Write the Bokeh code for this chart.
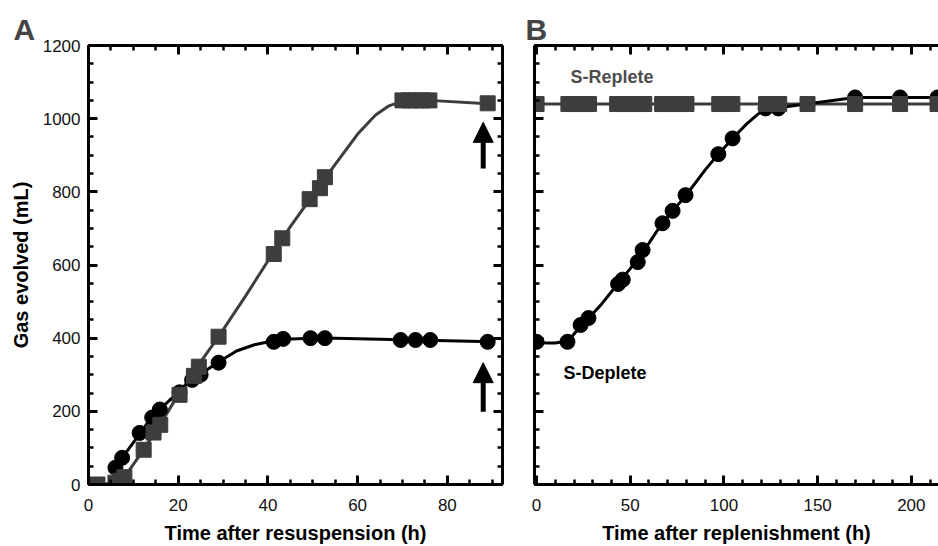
from bokeh.plotting import figure
from bokeh.layouts import row
from bokeh.models import (Range1d, LinearAxis, SingleIntervalTicker, Label, Arrow, NormalHead,
                          CustomJSTickFormatter)
from bokeh.embed import file_html
from bokeh.resources import INLINE

# ---------------- data ----------------
# Panel A: time after resuspension (h) vs gas evolved (mL)
sqA_x = [2, 6, 7, 8, 12.3, 14.5, 16, 20.3, 23.5, 24.6, 29, 41.3, 43.2, 49.3, 51.6, 52.7, 70, 71.5, 73, 74.5, 76, 89]
sqA_y = [0, 5, 10, 20, 95, 142, 163, 245, 297, 322, 404, 630, 673, 780, 810, 840, 1050, 1050, 1050, 1050, 1050, 1042]
ciA_x = [6, 7.5, 11.4, 14.2, 15.9, 20.3, 23.1, 25, 29, 41.3, 43.4, 49.5, 52.7, 69.6, 72.9, 76.2, 89]
ciA_y = [46, 73, 141, 183, 205, 252, 286, 300, 333, 390, 398, 400, 400, 395, 395, 395, 390]
# fitted curves as drawn in panel A
fitA_sq_x = [2, 5, 8, 12, 16, 20, 25, 29, 35, 41, 45, 50, 55, 60, 64, 67, 70, 76, 90]
fitA_sq_y = [0, 3, 20, 90, 165, 245, 335, 404, 515, 630, 705, 790, 875, 958, 1010, 1035, 1048, 1050, 1040]
fitA_ci_x = [5.5, 7.5, 11.5, 14, 16, 20, 23, 25, 29, 33, 37, 41, 45, 50, 55, 70, 90]
fitA_ci_y = [40, 73, 140, 183, 207, 252, 286, 302, 335, 365, 382, 392, 398, 400, 400, 396, 390]

# Panel B: time after replenishment (h)
sqB_x = [0, 17, 21, 24.5, 28, 43, 46.5, 50, 54, 57.5, 67, 71, 75.5, 80, 97.5, 104.5, 122.5, 129.5, 144.6, 170, 194, 214]
sqB_y = [1040] * len(sqB_x)
ciB_x = [0, 16.5, 23.5, 27.7, 43.5, 46, 54, 56.6, 67.2, 72.6, 79.5, 97, 104.6, 122.2, 129, 170, 194, 214]
ciB_y = [390, 390, 436, 455, 548, 560, 608, 641, 714, 748, 791, 903, 946, 1028, 1028, 1058, 1058, 1058]
fitB_ci_x = [0, 5, 10, 17, 23, 28, 35, 44, 50, 55, 60, 67, 73, 80, 90, 97, 105, 112, 118, 123, 129, 145, 170, 194, 214]
fitB_ci_y = [390, 387, 387, 393, 430, 456, 495, 553, 590, 625, 660, 714, 750, 792, 860, 903, 948, 985, 1012, 1026, 1030, 1041, 1058, 1058, 1058]

# arrows in panel A (x, y_tail, y_tip)
arrow_x = [88, 88]
arrow_tail = [864, 199]
arrow_tip = [990, 333]

FONT = "Liberation Sans"
GRAY = "#3d3d3d"
yr = Range1d(0, 1200)
blank = CustomJSTickFormatter(code="return ''")


def style_axis(ax, labels=True, title=None):
    ax.axis_line_width = 3
    ax.axis_line_color = "black"
    ax.major_tick_in = 9
    ax.major_tick_out = 0
    ax.minor_tick_in = 5
    ax.minor_tick_out = 0
    ax.major_tick_line_width = 3
    ax.minor_tick_line_width = 2.5
    ax.major_tick_line_color = "black"
    ax.minor_tick_line_color = "black"
    if labels:
        ax.major_label_text_font = FONT
        ax.major_label_text_font_size = "17px"
        ax.major_label_text_color = "#111111"
    else:
        ax.formatter = blank
        ax.major_label_standoff = 0
        ax.major_label_text_font_size = "10px"
    if title:
        ax.axis_label = title
        ax.axis_label_text_font = FONT
        ax.axis_label_text_font_size = "20px"
        ax.axis_label_text_font_style = "bold"
        ax.axis_label_text_color = "black"


def style_title(p, letter, offset):
    p.title.text = letter
    p.title.text_font = FONT
    p.title.text_font_size = "30px"
    p.title.text_font_style = "bold"
    p.title.align = "left"
    p.title.offset = offset
    p.title.standoff = 0


# ---------------- panel A ----------------
pA = figure(width=516, height=546, x_range=Range1d(0, 92.3), y_range=yr,
            output_backend="svg", toolbar_location=None,
            x_axis_type=None, y_axis_type=None,
            min_border_left=88, min_border_right=14, min_border_top=45, min_border_bottom=61)
pA.outline_line_color = None
pA.xgrid.visible = False
pA.ygrid.visible = False
style_title(pA, "A", -75)

xt = SingleIntervalTicker(interval=20, num_minor_ticks=4)
yt = SingleIntervalTicker(interval=200, num_minor_ticks=4)
axb = LinearAxis(ticker=xt); style_axis(axb, True, "Time after resuspension (h)")
axb.major_label_standoff = 14; axb.axis_label_standoff = 8
axl = LinearAxis(ticker=yt); style_axis(axl, True, "Gas evolved (mL)")
axl.major_label_standoff = 8; axl.axis_label_standoff = 8
axt = LinearAxis(ticker=xt); style_axis(axt, False)
axr = LinearAxis(ticker=yt); style_axis(axr, False)
pA.add_layout(axb, "below")
pA.add_layout(axl, "left")
pA.add_layout(axt, "above")
pA.add_layout(axr, "right")

pA.line(fitA_sq_x, fitA_sq_y, line_color=GRAY, line_width=3)
pA.line(fitA_ci_x, fitA_ci_y, line_color="black", line_width=3)
pA.scatter(ciA_x, ciA_y, marker="circle", size=15, fill_color="black", line_color="black")
pA.scatter(sqA_x, sqA_y, marker="square", size=15, fill_color=GRAY, line_color=GRAY)

for ax_, t0, t1 in zip(arrow_x, arrow_tail, arrow_tip):
    pA.add_layout(Arrow(end=NormalHead(size=20, fill_color="black", line_color="black"),
                        x_start=ax_, y_start=t0, x_end=ax_, y_end=t1,
                        line_width=5, line_color="black"))

# ---------------- panel B ----------------
pB = figure(width=422, height=546, x_range=Range1d(-1.1, 214.5), y_range=yr,
            output_backend="svg", toolbar_location=None,
            x_axis_type=None, y_axis_type=None,
            min_border_left=18, min_border_right=0, min_border_top=45, min_border_bottom=61)
pB.outline_line_color = None
pB.xgrid.visible = False
pB.ygrid.visible = False
style_title(pB, "B", -9)

xtB = SingleIntervalTicker(interval=50, num_minor_ticks=5)
bxb = LinearAxis(ticker=xtB); style_axis(bxb, True, "Time after replenishment (h)")
bxb.major_label_standoff = 14; bxb.axis_label_standoff = 8
bxl = LinearAxis(ticker=yt); style_axis(bxl, False)
bxt = LinearAxis(ticker=xtB); style_axis(bxt, False)
pB.add_layout(bxb, "below")
pB.add_layout(bxl, "left")
pB.add_layout(bxt, "above")

pB.line(sqB_x, sqB_y, line_color=GRAY, line_width=3)
pB.line(fitB_ci_x, fitB_ci_y, line_color="black", line_width=3)
pB.scatter(ciB_x, ciB_y, marker="circle", size=15, fill_color="black", line_color="black")
pB.scatter(sqB_x, sqB_y, marker="square", size=15, fill_color=GRAY, line_color=GRAY)

pB.add_layout(Label(x=18.1, y=1114, text="S-Replete", text_font=FONT, text_font_size="18px",
                    text_font_style="bold", text_color="#4d4d4d", text_baseline="middle"))
pB.add_layout(Label(x=14.4, y=305, text="S-Deplete", text_font=FONT, text_font_size="18px",
                    text_font_style="bold", text_color="black", text_baseline="middle"))

layout = row(pA, pB)
open("out.html", "w").write(file_html(layout, INLINE))
